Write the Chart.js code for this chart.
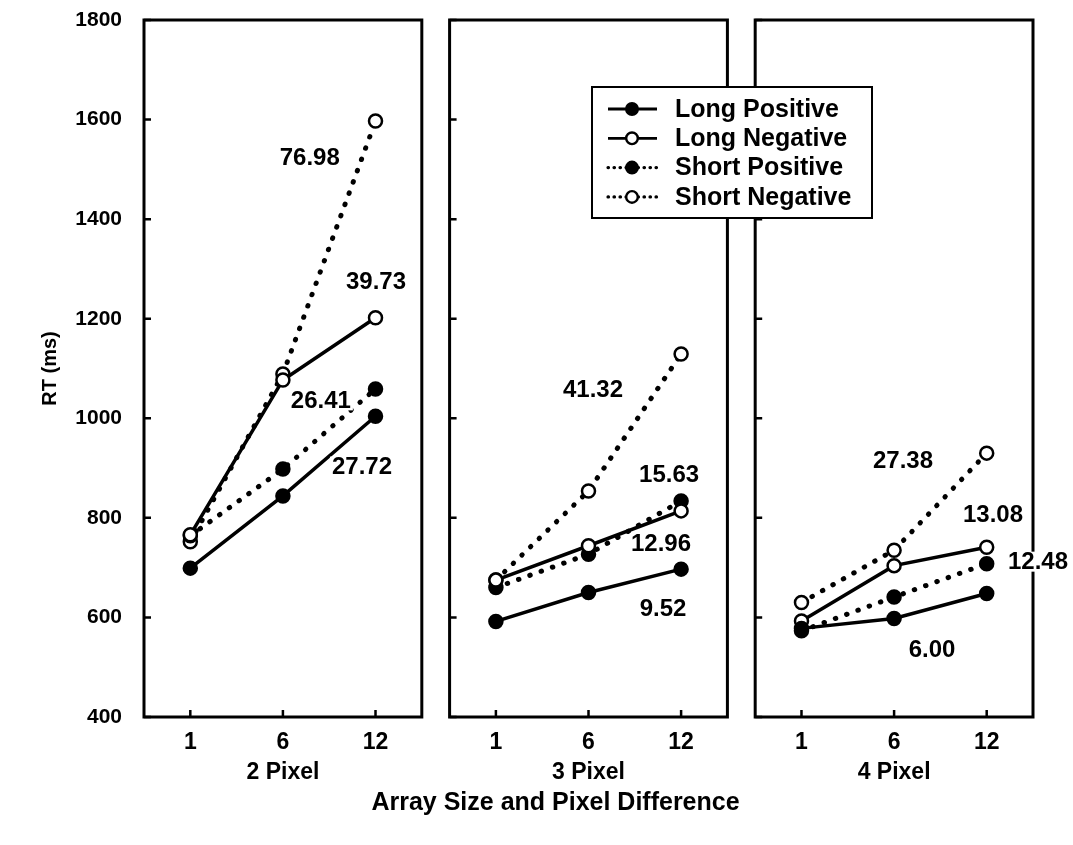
<!DOCTYPE html>
<html>
<head>
<meta charset="utf-8">
<script src="https://cdn.jsdelivr.net/npm/chart.js@4.4.1/dist/chart.umd.min.js"></script>
<style>
  html, body { margin: 0; padding: 0; background: #fff; }
  #wrap { width: 1073px; height: 845px; }
</style>
</head>
<body>
<div id="wrap"><canvas id="c" width="1073" height="845"></canvas></div>
<script>
// ---------------- data ----------------
const arraySizes = ['1', '6', '12'];
const pixelDifferences = ['2 Pixel', '3 Pixel', '4 Pixel'];
const seriesNames = ['Long Positive', 'Long Negative', 'Short Positive', 'Short Negative'];

// RT (ms) per array size (1, 6, 12) for 2 Pixel, 3 Pixel, 4 Pixel
const longPositive  = [699, 844, 1004,  592, 650, 697,  578, 598, 648];
const longNegative  = [766, 1077, 1202, 675, 744, 814,  593, 704, 741];
const shortPositive = [764, 898, 1059,  660, 727, 834,  573, 641, 708];
const shortNegative = [752, 1089, 1597, 675, 854, 1129, 630, 735, 930];

const yTicks = [400, 600, 800, 1000, 1200, 1400, 1600, 1800];

// slope annotations
const slopeTexts = ['76.98', '39.73', '26.41', '27.72',
                    '41.32', '15.63', '12.96', '9.52',
                    '27.38', '13.08', '12.48', '6.00'];
const slopePanel = [0, 0, 0, 0, 1, 1, 1, 1, 2, 2, 2, 2];
const slopeAt    = [1.79, 2.505, 1.91, 2.354, 1.549, 2.37, 2.283, 2.305, 1.596, 2.568, 3.054, 1.91];
const slopeAtRT  = [1524, 1275, 1036, 903, 1058, 887, 748, 619, 915, 806, 712, 535];

const yAxisTitle = 'RT (ms)';
const xAxisTitle = 'Array Size and Pixel Difference';

// ---------------- layout helpers ----------------
const FONT = '"Liberation Sans", Arial, Helvetica, sans-serif';
const GAP = 0.3;
const SPAN = arraySizes.length;
function xOf(panel, cat) { return panel * (SPAN + GAP) + cat + 0.5; }
const X_MAX = pixelDifferences.length * SPAN + (pixelDifferences.length - 1) * GAP;

function toPoints(values) {
  const pts = [];
  values.forEach((v, i) => {
    const p = Math.floor(i / SPAN), c = i % SPAN;
    if (c === 0 && p > 0) pts.push({ x: xOf(p, 0) - 0.5 - GAP / 2, y: null });
    pts.push({ x: xOf(p, c), y: v });
  });
  return pts;
}

const seriesValues = [longPositive, longNegative, shortPositive, shortNegative];
const seriesFilled = [true, false, true, false];
const seriesDotted = [false, false, true, true];

const datasets = seriesValues.map((vals, k) => ({
  label: seriesNames[k],
  data: toPoints(vals),
  yAxisID: 'y',
  borderColor: '#000',
  borderWidth: seriesDotted[k] ? 5 : 3.5,
  borderDash: seriesDotted[k] ? [0.5, 11.5] : [],
  borderCapStyle: seriesDotted[k] ? 'round' : 'butt',
  pointRadius: 6.5,
  pointHoverRadius: 6.5,
  pointBorderWidth: 2.5,
  pointBorderColor: '#000',
  pointBackgroundColor: seriesFilled[k] ? '#000' : '#fff',
  tension: 0,
  spanGaps: false
}));

// ---------------- plugins ----------------
const framePlugin = {
  id: 'panelFrames',
  beforeDatasetsDraw(chart) {
    const { ctx, chartArea: { top, bottom }, scales: { x, y } } = chart;
    ctx.save();
    ctx.strokeStyle = '#000';
    for (let p = 0; p < pixelDifferences.length; p++) {
      const l = x.getPixelForValue(p * (SPAN + GAP));
      const r = x.getPixelForValue(p * (SPAN + GAP) + SPAN);
      ctx.lineWidth = 3;
      ctx.strokeRect(l, top, r - l, bottom - top);
      ctx.lineWidth = 2.5;
      ctx.beginPath();
      yTicks.forEach(v => {
        const py = y.getPixelForValue(v);
        ctx.moveTo(l, py); ctx.lineTo(l + 7, py);
      });
      for (let c = 0; c < SPAN; c++) {
        const px = x.getPixelForValue(xOf(p, c));
        ctx.moveTo(px, bottom); ctx.lineTo(px, bottom - 7);
      }
      ctx.stroke();
    }
    ctx.restore();
  },
  afterDatasetsDraw(chart) {
    const { ctx, scales: { x, y } } = chart;
    ctx.save();
    ctx.font = 'bold 24px ' + FONT;
    ctx.textAlign = 'center';
    ctx.textBaseline = 'middle';
    slopeTexts.forEach((t, i) => {
      const px = x.getPixelForValue(slopePanel[i] * (SPAN + GAP) + slopeAt[i]);
      const py = y.getPixelForValue(slopeAtRT[i]);
      const w = ctx.measureText(t).width;
      ctx.fillStyle = '#fff';
      ctx.fillRect(px - w / 2 - 2, py - 10, w + 4, 20);
      ctx.fillStyle = '#000';
      ctx.fillText(t, px, py + 1);
    });
    ctx.restore();
  },
  afterDraw(chart) {
    const { ctx, chartArea } = chart;
    const left = chartArea.left + 448, top = chartArea.top + 67;
    const w = 280, h = 131;
    ctx.save();
    ctx.fillStyle = '#fff';
    ctx.fillRect(left, top, w, h);
    ctx.strokeStyle = '#000';
    ctx.lineWidth = 2;
    ctx.strokeRect(left, top, w, h);
    ctx.font = 'bold 25px ' + FONT;
    ctx.textBaseline = 'middle';
    ctx.textAlign = 'left';
    chart.data.datasets.forEach((ds, k) => {
      const cy = top + 22 + k * 29.3;
      ctx.beginPath();
      ctx.strokeStyle = '#000';
      if (ds.borderDash && ds.borderDash.length) {
        ctx.setLineDash([0.5, 5.5]); ctx.lineCap = 'round'; ctx.lineWidth = 3.2;
      } else {
        ctx.setLineDash([]); ctx.lineCap = 'butt'; ctx.lineWidth = 2.8;
      }
      ctx.moveTo(left + 16, cy); ctx.lineTo(left + 65, cy);
      ctx.stroke();
      ctx.setLineDash([]);
      ctx.beginPath();
      ctx.arc(left + 40, cy, 5.8, 0, Math.PI * 2);
      ctx.fillStyle = ds.pointBackgroundColor;
      ctx.fill();
      ctx.lineWidth = 2.4;
      ctx.stroke();
      ctx.fillStyle = '#000';
      ctx.fillText(ds.label, left + 83, cy + 1);
    });
    ctx.restore();
  }
};

// ---------------- chart ----------------
new Chart(document.getElementById('c'), {
  type: 'line',
  data: { datasets },
  options: {
    responsive: false,
    animation: false,
    events: [],
    layout: { padding: { left: 38, right: 0, top: 20, bottom: 0 } },
    plugins: {
      legend: { display: false },
      tooltip: { enabled: false },
      title: {
        display: true,
        position: 'bottom',
        text: xAxisTitle,
        color: '#000',
        font: { family: FONT, size: 25, weight: 'bold', lineHeight: 1.2 },
        padding: { top: 4, bottom: 27 }
      }
    },
    scales: {
      x: {
        type: 'linear',
        min: 0,
        max: X_MAX,
        afterBuildTicks(scale) {
          const t = [];
          for (let p = 0; p < pixelDifferences.length; p++)
            for (let c = 0; c < SPAN; c++) t.push({ value: xOf(p, c) });
          scale.ticks = t;
        },
        afterFit(scale) { scale.height = 67; scale.paddingLeft = 0; scale.paddingRight = 0; },
        grid: { display: false, drawTicks: false },
        border: { display: false },
        ticks: {
          autoSkip: false,
          maxRotation: 0,
          padding: 11,
          color: '#000',
          font: { family: FONT, size: 23, weight: 'bold', lineHeight: 1.304 },
          callback(value, index) {
            const c = index % SPAN, p = Math.floor(index / SPAN);
            return [arraySizes[c], c === 1 ? pixelDifferences[p] : ''];
          }
        }
      },
      y: {
        min: 400,
        max: 1800,
        afterBuildTicks(scale) { scale.ticks = yTicks.map(v => ({ value: v })); },
        afterFit(scale) { scale.width = 106; scale.paddingTop = 0; scale.paddingBottom = 0; },
        grid: { display: false, drawTicks: false },
        border: { display: false },
        ticks: {
          padding: 22,
          color: '#000',
          font: { family: FONT, size: 21, weight: 'bold' },
          callback(value) { return String(value); }
        },
        title: {
          display: true,
          text: yAxisTitle,
          color: '#000',
          font: { family: FONT, size: 20, weight: 'bold', lineHeight: 1.2 },
          padding: { top: 0, bottom: 0 }
        }
      },
      yRight: {
        type: 'linear',
        position: 'right',
        display: true,
        min: 400,
        max: 1800,
        afterFit(scale) { scale.width = 40; scale.paddingTop = 0; scale.paddingBottom = 0; },
        grid: { display: false, drawTicks: false },
        border: { display: false },
        ticks: { display: false }
      }
    }
  },
  plugins: [framePlugin]
});
</script>
</body>
</html>
